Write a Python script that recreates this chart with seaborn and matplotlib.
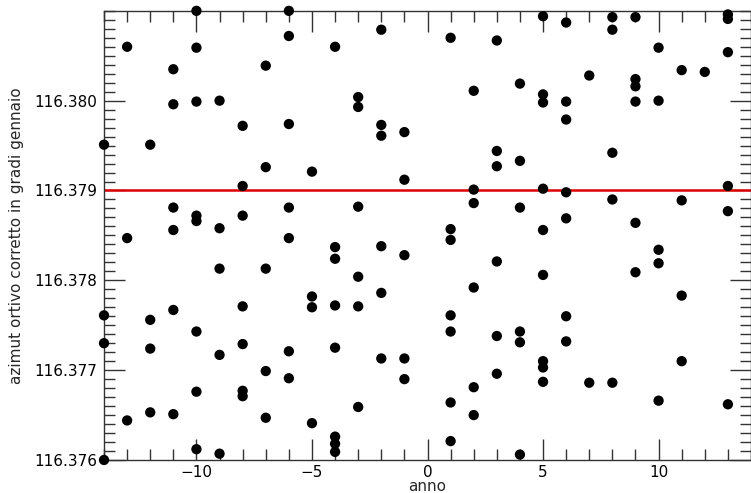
import numpy as np
import pandas as pd
import matplotlib
matplotlib.use('Agg')
import matplotlib.pyplot as plt
import seaborn as sns
from matplotlib.ticker import MultipleLocator, FormatStrFormatter

# values, one list per year
anni = {
    -14: [116.37951, 116.37761, 116.3773, 116.3760],
    -13: [116.3806, 116.37847, 116.37644],
    -12: [116.37951, 116.37756, 116.37724, 116.37653],
    -11: [116.38035, 116.37996, 116.37881, 116.37856, 116.37767, 116.37651],
    -10: [116.3810, 116.38059, 116.37999, 116.37872, 116.37866, 116.37743, 116.37676, 116.37612],
    -9: [116.3800, 116.37858, 116.37813, 116.37717, 116.37607],
    -8: [116.37972, 116.37905, 116.37872, 116.37771, 116.37729, 116.37677, 116.37671],
    -7: [116.38039, 116.37926, 116.37813, 116.37699, 116.37647],
    -6: [116.3810, 116.38072, 116.37974, 116.37881, 116.37847, 116.37721, 116.37691],
    -5: [116.37921, 116.37782, 116.3777, 116.37641],
    -4: [116.3806, 116.37837, 116.37824, 116.37772, 116.37725, 116.37626, 116.37618, 116.37609],
    -3: [116.38004, 116.37993, 116.37882, 116.37804, 116.37771, 116.37659],
    -2: [116.38079, 116.37973, 116.37961, 116.37838, 116.37786, 116.37713],
    -1: [116.37965, 116.37912, 116.37828, 116.37713, 116.3769],
    1: [116.3807, 116.37857, 116.37845, 116.37761, 116.37743, 116.37664, 116.37621],
    2: [116.38011, 116.37901, 116.37886, 116.37792, 116.37681, 116.3765],
    3: [116.38067, 116.37944, 116.37927, 116.37821, 116.37738, 116.37696],
    4: [116.38019, 116.37933, 116.37881, 116.37743, 116.37731, 116.37606],
    5: [116.38094, 116.38007, 116.37998, 116.37902, 116.37856, 116.37806, 116.3771, 116.37703, 116.37687],
    6: [116.38087, 116.37999, 116.37979, 116.37898, 116.37869, 116.3776, 116.37732],
    7: [116.38028, 116.37686],
    8: [116.38093, 116.38079, 116.37942, 116.3789, 116.37686],
    9: [116.38093, 116.38024, 116.38016, 116.37999, 116.37864, 116.37809],
    10: [116.38059, 116.3800, 116.37834, 116.37819, 116.37666],
    11: [116.38034, 116.37889, 116.37783, 116.3771],
    12: [116.38032],
    13: [116.38096, 116.38091, 116.38054, 116.37905, 116.37877, 116.37662],
}
riferimento = 116.379
y_ticks = [116.376, 116.377, 116.378, 116.379, 116.380]

df = pd.DataFrame([(a, v) for a, vals in anni.items() for v in vals],
                  columns=['anno', 'azimut'])

sns.set_style('white')
plt.rcParams['font.family'] = ['DejaVu Sans']

fig = plt.figure(figsize=(7.51, 4.93), dpi=100)
ax = fig.add_axes([0.1385, 0.067, 0.8615, 0.911])

sns.scatterplot(data=df, x='anno', y='azimut', color='black', s=55,
                edgecolor='none', ax=ax, zorder=3, clip_on=False)
ax.axhline(riferimento, color='#dd0000', lw=1.8, zorder=2)

ax.set_xlim(-14, 14)
ax.set_ylim(116.376, 116.381)
ax.xaxis.set_major_locator(MultipleLocator(5))
ax.xaxis.set_minor_locator(MultipleLocator(1))
ax.set_yticks(y_ticks)
ax.yaxis.set_minor_locator(MultipleLocator(0.0001))
ax.yaxis.set_major_formatter(FormatStrFormatter('%.3f'))

ax.tick_params(which='both', direction='in', top=True, right=True,
               bottom=True, left=True, colors='#333333', labelcolor='black',
               labelsize=11, width=1)
ax.tick_params(which='major', length=15)
ax.tick_params(which='minor', length=8)
ax.tick_params(axis='x', which='major', pad=3.5)
ax.tick_params(axis='y', which='major', pad=5)

for sp in ax.spines.values():
    sp.set_color('#333333')
    sp.set_linewidth(1)

ax.set_xlabel('anno', fontsize=11, labelpad=-0.5)
ax.set_ylabel('azimut ortivo corretto in gradi gennaio', fontsize=11, labelpad=7)

fig.savefig('out.png', dpi=100)
